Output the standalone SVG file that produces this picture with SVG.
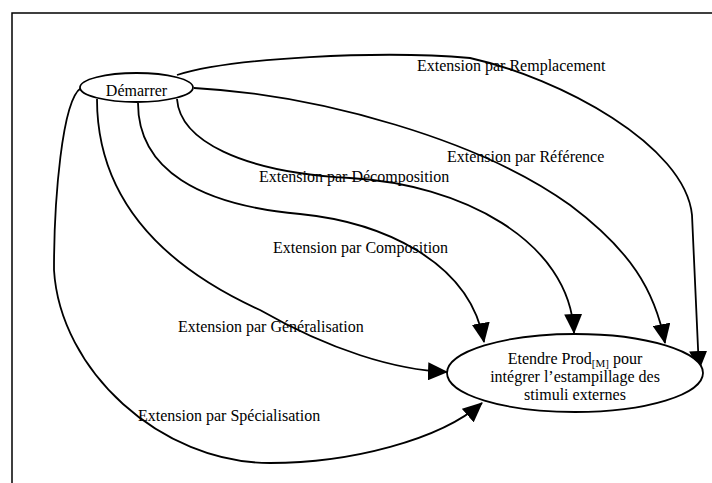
<svg xmlns="http://www.w3.org/2000/svg" width="712" height="483" viewBox="0 0 712 483">
<style>
.node{fill:#fff;stroke:#000;stroke-width:1.8}
.t{font-family:"Liberation Serif","Times New Roman",serif;font-size:16px;fill:#000}
.c{fill:none;stroke:#000;stroke-width:1.8}
.frame{fill:none;stroke:#000;stroke-width:1.5}
</style>
<defs>
<marker id="ah" markerUnits="userSpaceOnUse" markerWidth="20" markerHeight="18" viewBox="0 0 20 18" refX="19" refY="9" orient="auto">
<path d="M0,0 L20,9 L0,18 z" fill="#000"/>
</marker>
</defs>
<rect width="712" height="483" fill="#fff"/>
<path class="frame" d="M12,483 L12,13 L712,13"/>
<g id="connectors">
<path class="c" marker-end="url(#ah)" d="M177,75 C230,58 380,50 470,58 C560,78 685,145 692,215 L699,370"/>
<path class="c" marker-end="url(#ah)" d="M194,88 C320,95 480,140 570,205 C630,250 655,290 665,343"/>
<path class="c" marker-end="url(#ah)" d="M177,99 C180,140 240,172 350,178 C460,184 570,240 574,333"/>
<path class="c" marker-end="url(#ah)" d="M138,103 C138,170 200,205 300,214 C380,222 470,260 484,342"/>
<path class="c" marker-end="url(#ah)" d="M97,99 C97,190 150,260 260,310 C330,350 395,370 447,372"/>
<path class="c" marker-end="url(#ah)" d="M81,88 C62,100 54,200 54,270 C60,370 160,463 270,463 C350,463 440,440 482,403"/>
</g>
<g id="labels">
<text class="t" x="417" y="71">Extension par Remplacement</text>
<text class="t" x="447" y="162">Extension par Référence</text>
<text class="t" x="259" y="182">Extension par Décomposition</text>
<text class="t" x="273" y="253">Extension par Composition</text>
<text class="t" x="178" y="332">Extension par Généralisation</text>
<text class="t" x="138" y="421">Extension par Spécialisation</text>
</g>
<g id="demarrer">
<ellipse class="node" cx="136.5" cy="87.5" rx="56.5" ry="14.5"/>
<text class="t" x="136.5" y="96" text-anchor="middle">Démarrer</text>
</g>
<g id="etendre">
<ellipse class="node" cx="575" cy="373" rx="128" ry="39"/>
<text class="t" x="575" y="364" text-anchor="middle">Etendre Prod<tspan font-size="11" dy="3">[M]</tspan><tspan dy="-3"> pour</tspan></text>
<text class="t" x="575" y="382" text-anchor="middle">intégrer l’estampillage des</text>
<text class="t" x="575" y="400" text-anchor="middle">stimuli externes</text>
</g>
</svg>
